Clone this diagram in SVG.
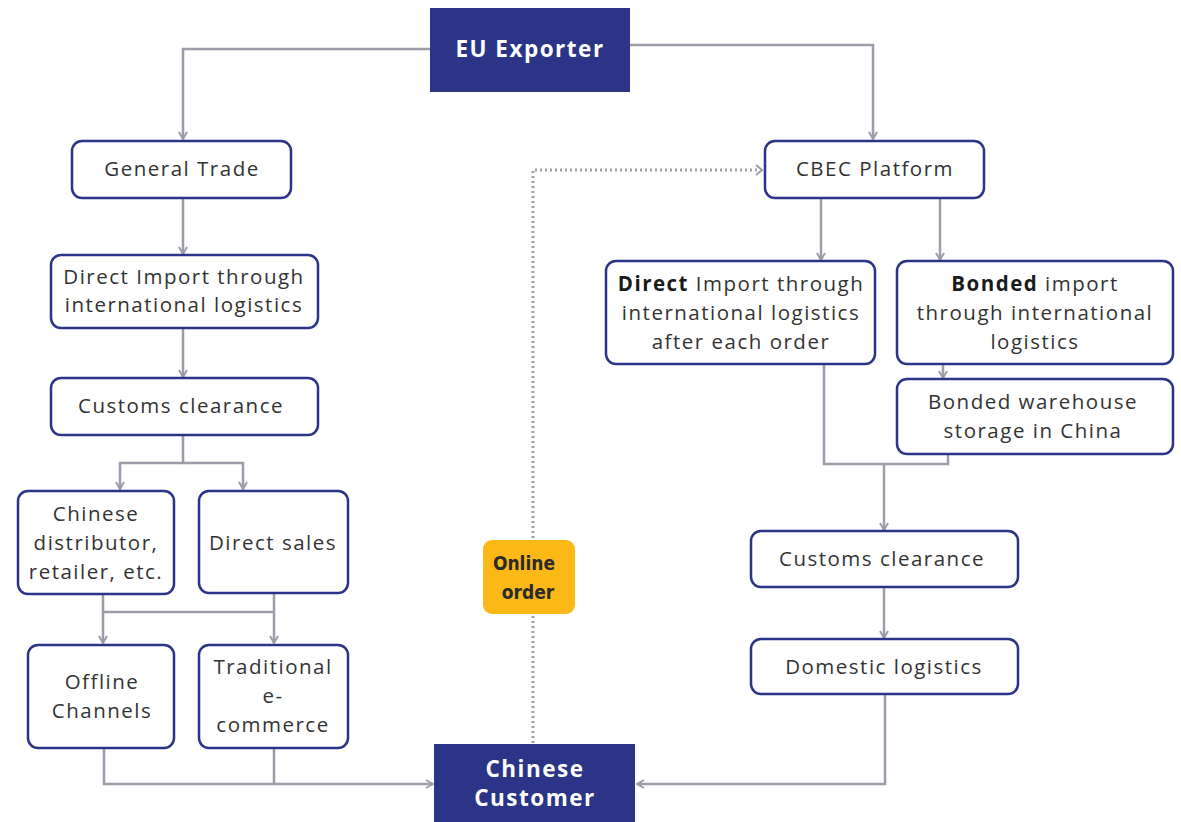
<svg xmlns="http://www.w3.org/2000/svg" width="1181" height="822" viewBox="0 0 1181 822">
<style>
.box{fill:#fff;stroke:#2b3486;stroke-width:2.5}
.dark{fill:#2b3486}
.t{font-family:"Open Sans","DejaVu Sans",sans-serif;font-size:20.5px;fill:#333;text-anchor:middle;letter-spacing:1.5px}
.tw{font-family:"Open Sans","DejaVu Sans",sans-serif;font-size:22.5px;font-weight:bold;fill:#fff;text-anchor:middle;letter-spacing:1.5px}
.to{font-family:"DejaVu Sans Condensed","DejaVu Sans",sans-serif;font-size:19px;font-weight:bold;fill:#2a2a2a;text-anchor:middle}
.c{fill:none;stroke:#9d9daa;stroke-width:2.5}
.d{fill:none;stroke:#a0a0aa;stroke-width:3;stroke-dasharray:2 3}
</style>
<defs>
<marker id="a" viewBox="0 0 10 10" refX="9" refY="5" markerWidth="10" markerHeight="10" markerUnits="userSpaceOnUse" orient="auto">
<polyline points="2,1 9,5 2,9" fill="none" stroke="#9d9daa" stroke-width="2"/>
</marker>
</defs>
<g id="connectors">
<polyline class="c" points="430,49 183,49 183,139" marker-end="url(#a)"/>
<polyline class="c" points="630,45 873,45 873,139" marker-end="url(#a)"/>
<line class="c" x1="183" y1="198" x2="183" y2="254" marker-end="url(#a)"/>
<line class="c" x1="183" y1="328" x2="183" y2="377" marker-end="url(#a)"/>
<polyline class="c" points="183,435 183,463 120,463 120,489" marker-end="url(#a)"/>
<polyline class="c" points="183,463 243,463 243,489" marker-end="url(#a)"/>
<polyline class="c" points="103,594 103,612 103,643" marker-end="url(#a)"/>
<polyline class="c" points="274,593 274,643" marker-end="url(#a)"/>
<line class="c" x1="103" y1="612" x2="274" y2="612"/>
<polyline class="c" points="104,748 104,784 433,784" marker-end="url(#a)"/>
<line class="c" x1="274" y1="748" x2="274" y2="784"/>
<polyline class="d" points="533,743 533,170 760,170"/>
<polyline points="756,165 762,170 756,175" fill="none" stroke="#9d9daa" stroke-width="2"/>
<line class="c" x1="821" y1="198" x2="821" y2="260" marker-end="url(#a)"/>
<line class="c" x1="940" y1="198" x2="940" y2="260" marker-end="url(#a)"/>
<line class="c" x1="943" y1="364" x2="943" y2="378" marker-end="url(#a)"/>
<polyline class="c" points="824,364 824,464 948,464 948,454"/>
<line class="c" x1="884" y1="464" x2="884" y2="530" marker-end="url(#a)"/>
<line class="c" x1="884" y1="587" x2="884" y2="638" marker-end="url(#a)"/>
<polyline class="c" points="885,694 885,784 637,784" marker-end="url(#a)"/>
</g>
<g id="eu-exporter">
<rect class="dark" x="430" y="8" width="200" height="84"/>
<text class="tw" x="530" y="57">EU Exporter</text>
</g>
<g id="general-trade">
<rect class="box" x="72" y="141" width="219" height="57" rx="10"/>
<text class="t" x="182" y="176">General Trade</text>
</g>
<g id="direct-import-left">
<rect class="box" x="51" y="255" width="267" height="73" rx="10"/>
<text class="t" x="184" y="284">Direct Import through</text>
<text class="t" x="184" y="312">international logistics</text>
</g>
<g id="customs-left">
<rect class="box" x="51" y="378" width="267" height="57" rx="10"/>
<text class="t" x="181" y="413">Customs clearance</text>
</g>
<g id="chinese-distributor">
<rect class="box" x="18" y="491" width="156" height="103" rx="10"/>
<text class="t" x="96" y="521">Chinese</text>
<text class="t" x="96" y="550">distributor,</text>
<text class="t" x="96" y="579">retailer, etc.</text>
</g>
<g id="direct-sales">
<rect class="box" x="199" y="491" width="149" height="102" rx="10"/>
<text class="t" x="273" y="550">Direct sales</text>
</g>
<g id="offline-channels">
<rect class="box" x="28" y="645" width="146" height="103" rx="10"/>
<text class="t" x="102" y="689">Offline</text>
<text class="t" x="102" y="718">Channels</text>
</g>
<g id="traditional-ecommerce">
<rect class="box" x="199" y="645" width="149" height="103" rx="10"/>
<text class="t" x="273" y="674">Traditional</text>
<text class="t" x="273" y="703">e-</text>
<text class="t" x="273" y="732">commerce</text>
</g>
<g id="online-order">
<rect x="483" y="540" width="92" height="74" rx="9" fill="#fbb816"/>
<text class="to" x="524" y="570">Online</text>
<text class="to" x="528" y="599">order</text>
</g>
<g id="chinese-customer">
<rect class="dark" x="434" y="744" width="201" height="80"/>
<text class="tw" x="535" y="777">Chinese<tspan x="535" y="806">Customer</tspan></text>
</g>
<g id="cbec-platform">
<rect class="box" x="765" y="141" width="219" height="57" rx="10"/>
<text class="t" x="875" y="176">CBEC Platform</text>
</g>
<g id="direct-import-right">
<rect class="box" x="606" y="261" width="269" height="103" rx="10"/>
<text class="t" x="741" y="291"><tspan font-weight="bold" fill="#1a1a1a">Direct</tspan> Import through</text>
<text class="t" x="741" y="320">international logistics</text>
<text class="t" x="741" y="349">after each order</text>
</g>
<g id="bonded-import">
<rect class="box" x="897" y="261" width="276" height="103" rx="10"/>
<text class="t" x="1035" y="291"><tspan font-weight="bold" fill="#1a1a1a">Bonded</tspan> import</text>
<text class="t" x="1035" y="320">through international</text>
<text class="t" x="1035" y="349">logistics</text>
</g>
<g id="bonded-warehouse">
<rect class="box" x="897" y="379" width="276" height="75" rx="10"/>
<text class="t" x="1033" y="409">Bonded warehouse</text>
<text class="t" x="1033" y="438">storage in China</text>
</g>
<g id="customs-right">
<rect class="box" x="751" y="531" width="267" height="56" rx="10"/>
<text class="t" x="882" y="566">Customs clearance</text>
</g>
<g id="domestic-logistics">
<rect class="box" x="751" y="639" width="267" height="55" rx="10"/>
<text class="t" x="884" y="674">Domestic logistics</text>
</g>
</svg>
